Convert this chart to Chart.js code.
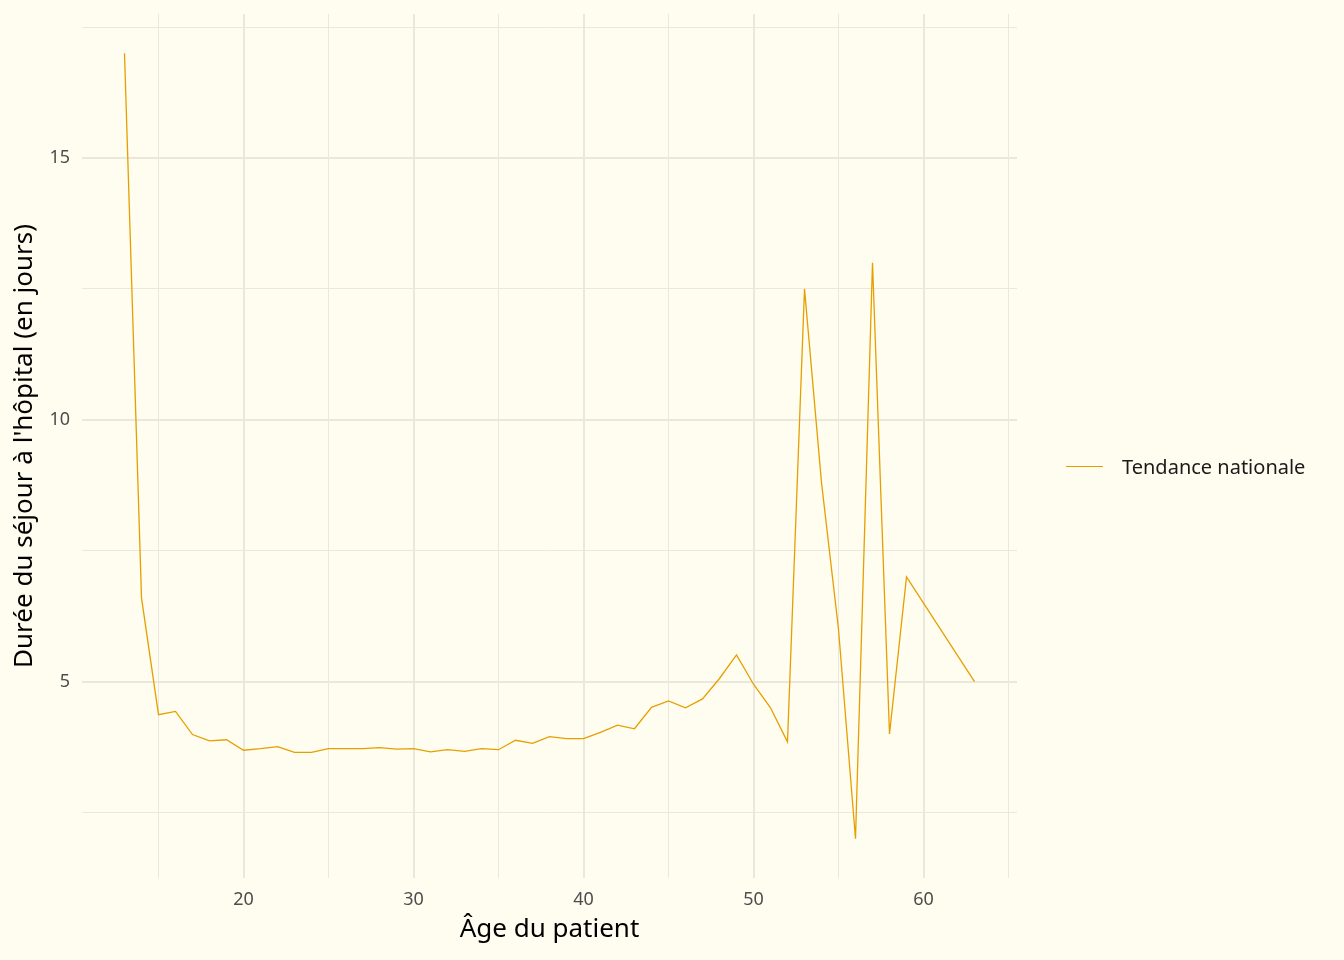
<!DOCTYPE html>
<html>
<head>
<meta charset="utf-8">
<script src="https://cdn.jsdelivr.net/npm/chart.js@4/dist/chart.umd.min.js"></script>
<style>
  html, body { margin:0; padding:0; background:#FFFDF0; }
  #wrap { position:relative; width:1344px; height:960px; }
  canvas { position:absolute; left:0; top:0; }
  #legend { position:absolute; left:1066px; top:452px; height:28px; display:flex; align-items:center;
            font-family:"Noto Sans", sans-serif; font-size:20px; color:#1a1a1a; }
  #legend .sw { width:37px; height:0; border-top:1.5px solid #E69F00; margin-right:19px; }
</style>
</head>
<body>
<div id="wrap">
  <canvas id="c" width="1344" height="960"></canvas>
  <div id="legend"><div class="sw"></div><span>Tendance nationale</span></div>
</div>
<script>
const ages = [13,14,15,16,17,18,19,20,21,22,23,24,25,26,27,28,29,30,31,32,33,34,35,36,37,38,39,40,41,42,43,44,45,46,47,48,49,50,51,52,53,54,55,56,57,58,59,63];
const durations = [17.0,6.6,4.37,4.43,3.99,3.87,3.89,3.69,3.72,3.76,3.65,3.65,3.72,3.72,3.72,3.74,3.71,3.72,3.66,3.70,3.67,3.72,3.70,3.88,3.82,3.95,3.91,3.91,4.03,4.17,4.10,4.51,4.63,4.50,4.67,5.06,5.51,4.95,4.50,3.85,12.5,8.8,6.0,2.0,13.0,4.0,7.0,5.0];
const seriesName = "Tendance nationale";
const xTicks = [15,20,25,30,35,40,45,50,55,60,65];
const yTicks = [2.5,5,7.5,10,12.5,15,17.5];
const xLabelTicks = [20,30,40,50,60];
const yLabelTicks = [5,10,15];
const xTitle = "Âge du patient";
const yTitle = "Durée du séjour à l'hôpital (en jours)";

const gridColor = "#EAE8DC";
const points = ages.map((a,i)=>({x:a, y:durations[i]}));

new Chart(document.getElementById('c'), {
  type: 'line',
  data: { datasets: [{ label: seriesName, data: points, borderColor:'#E69F00', borderWidth:1.3,
                       pointRadius:0, tension:0, fill:false }] },
  options: {
    responsive:false, animation:false,
    layout: { padding: { top:14, right:327, bottom:0, left:0 } },
    plugins: { legend:{display:false}, tooltip:{enabled:false} },
    scales: {
      x: {
        type:'linear', min:10.5, max:65.5,
        afterBuildTicks: s => { s.ticks = xTicks.map(v=>({value:v})); },
        afterFit: s => { s.height = 82; s.paddingLeft = 0; s.paddingRight = 0; },
        border:{display:false},
        grid:{ color:gridColor, drawTicks:false,
               lineWidth: ctx => (ctx.tick && xLabelTicks.includes(ctx.tick.value)) ? 2 : 1 },
        ticks:{ padding:11, color:'#4D4D4D', font:{family:'Noto Sans', size:18},
                autoSkip:false, maxRotation:0,
                callback: v => xLabelTicks.includes(v) ? String(v) : '' },
        title:{ display:true, text:xTitle, color:'#000', font:{family:'Noto Sans', size:26},
                padding:{top:0,bottom:15} }
      },
      y: {
        type:'linear', min:1.25, max:17.75,
        afterBuildTicks: s => { s.ticks = yTicks.map(v=>({value:v})); },
        afterFit: s => { s.width = 82; s.paddingTop = 0; s.paddingBottom = 0; },
        border:{display:false},
        grid:{ color:gridColor, drawTicks:false,
               lineWidth: ctx => (ctx.tick && yLabelTicks.includes(ctx.tick.value)) ? 2 : 1 },
        ticks:{ padding:12, color:'#4D4D4D', font:{family:'Noto Sans', size:18},
                autoSkip:false,
                callback: v => yLabelTicks.includes(v) ? String(v) : '' },
        title:{ display:true, text:yTitle, color:'#000', font:{family:'Noto Sans', size:26},
                padding:{top:9,bottom:0} }
      }
    }
  },
  plugins: [{
    id:'bg',
    beforeDraw: c => { const ctx=c.ctx; ctx.save(); ctx.fillStyle='#FFFDF0'; ctx.fillRect(0,0,c.width,c.height); ctx.restore(); }
  }]
});
</script>
</body>
</html>
